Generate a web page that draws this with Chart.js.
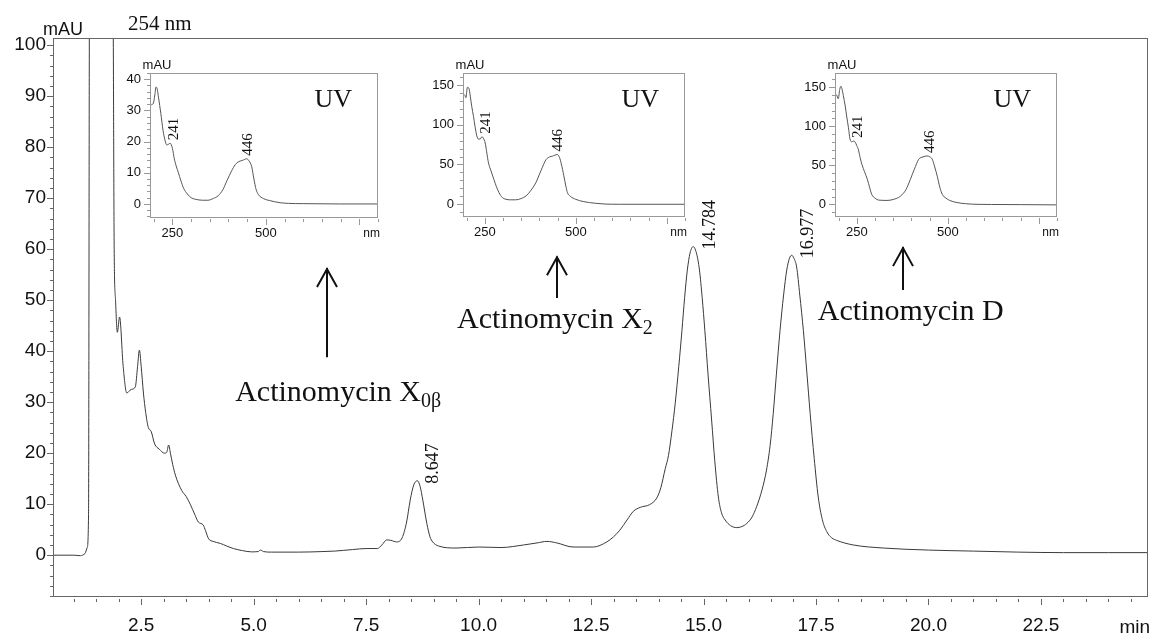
<!DOCTYPE html>
<html>
<head>
<meta charset="utf-8">
<script src="https://cdn.jsdelivr.net/npm/chart.js@4.4.0/dist/chart.umd.min.js"></script>
<style>
  body { margin: 0; background: #fff; }
  #wrap { position: relative; width: 1151px; height: 636px; overflow: hidden; }
  canvas { position: absolute; }
</style>
</head>
<body>
<div id="wrap">
  <canvas id="main" width="1151" height="636" style="left:0;top:0"></canvas>
  <canvas id="uv1" width="280" height="195" style="left:110px;top:55px"></canvas>
  <canvas id="uv2" width="274" height="195" style="left:423px;top:55px"></canvas>
  <canvas id="uv3" width="274" height="195" style="left:795px;top:55px"></canvas>
</div>
<script>
// chromatogram at 254 nm (min, mAU)
const retentionTime = [0.55, 1.0, 1.15, 1.25, 1.30, 1.33, 1.35, 1.6, 1.85, 1.88, 1.90, 1.93, 1.97, 2.02, 2.10, 2.18, 2.28, 2.37, 2.42, 2.46,
  2.50, 2.55, 2.60, 2.66, 2.72, 2.80, 2.90, 3.02, 3.07, 3.11, 3.15, 3.20, 3.26, 3.40, 3.50, 3.59, 3.70, 3.77, 3.88, 3.93,
  4.00, 4.10, 4.26, 4.40, 4.55, 4.75, 4.95, 5.10, 5.15, 5.22, 5.40, 6.00, 6.50, 6.80, 7.20, 7.50, 7.75, 7.85, 7.96, 8.05,
  8.18, 8.30, 8.40, 8.48, 8.56, 8.64, 8.70, 8.76, 8.85, 8.92, 8.98, 9.11, 9.50, 10.0, 10.5, 11.0, 11.3, 11.52, 11.74, 12.1,
  12.55, 12.85, 13.0, 13.14, 13.3, 13.44, 13.6, 13.8, 13.96, 14.05, 14.15, 14.22, 14.30, 14.37, 14.45, 14.52, 14.58, 14.64, 14.70, 14.77,
  14.84, 14.91, 14.97, 15.03, 15.10, 15.18, 15.25, 15.33, 15.40, 15.48, 15.60, 15.74, 15.85, 15.96, 16.08, 16.18, 16.30, 16.40, 16.48, 16.55,
  16.62, 16.70, 16.78, 16.85, 16.91, 16.96, 17.01, 17.07, 17.14, 17.22, 17.30, 17.37, 17.46, 17.55, 17.64, 17.74, 17.85, 17.96, 18.33, 19.0,
  20.0, 21.0, 22.0, 23.0, 24.0, 24.9];
const absorbance = [0.0, 0.0, -0.1, 0.3, 1.5, 8, 110, 300, 150, 102, 60, 50, 43.7, 46.7, 37, 31.8, 32.5, 33, 37, 40.2,
  37, 31.8, 28, 25.0, 24.3, 21.8, 20.8, 20.0, 20.2, 21.6, 20, 17.8, 15.7, 12.7, 11.5, 10.0, 7.8, 6.5, 5.9, 4.8,
  3.2, 2.7, 2.3, 1.8, 1.3, 0.9, 0.65, 0.7, 1.0, 0.7, 0.6, 0.6, 0.7, 0.8, 1.1, 1.3, 1.3, 2.0, 3.0, 2.9,
  2.6, 3.4, 6.5, 10.8, 13.8, 14.6, 13.5, 10.8, 6.2, 3.6, 2.6, 1.8, 1.4, 1.6, 1.5, 2.0, 2.4, 2.7, 2.4, 1.6,
  1.6, 2.6, 3.6, 4.9, 6.9, 8.6, 9.4, 9.9, 11.2, 13.2, 17, 19.5, 24.5, 29.7, 37, 44, 50.5, 55.9, 59.2, 60.5,
  59.3, 55.9, 50.5, 44, 35.5, 26.5, 18.5, 11.4, 8.3, 6.9, 5.8, 5.4, 5.6, 6.2, 7.5, 9.5, 12.8, 16.7, 21.5, 27.8,
  35.5, 44, 51, 55.9, 58.2, 58.8, 58.2, 56.5, 51, 44, 35.5, 27.8, 19, 11.4, 7, 4.6, 3.4, 2.9, 2.0, 1.4,
  1.0, 0.8, 0.6, 0.5, 0.5, 0.5];
const peakTimes = [8.647, 14.784, 16.977];

// UV spectra (nm, mAU)
const uvWavelength1 = [193, 199, 203, 206, 209, 213, 219, 225, 230, 235, 240, 244, 250, 255, 260, 266, 272, 280, 290, 300,
  312, 330, 345, 360, 372, 385, 396, 408, 418, 428, 438, 449, 455, 462, 468, 474, 480, 494, 510, 538, 560, 600, 700, 800];
const uvAbsorbance1 = [31.8, 32.3, 35, 37.5, 37, 34, 29, 23.5, 20.5, 18.9, 19.2, 19.5, 17.8, 14.5, 12.2, 10, 7.7, 5, 3.2, 2.0,
  1.5, 1.2, 1.2, 1.8, 2.6, 4.6, 7.5, 10.5, 12.6, 13.6, 14.0, 14.5, 13.8, 12, 8, 4.6, 3.0, 1.7, 1.1, 0.4, 0.2, 0.1, 0.0, 0.0];
const uvWavelength2 = [190, 195, 198, 202, 206, 210, 214, 219, 223, 228, 232, 237, 242, 246, 251, 255, 260, 267, 275, 282,
  289, 298, 308, 320, 335, 350, 363, 376, 390, 404, 418, 428, 436, 449, 455, 460, 467, 473, 477, 485, 500, 520, 555, 580, 620, 800];
const uvAbsorbance2 = [139, 137, 134, 147, 146, 136, 123, 110, 98, 86, 82, 82, 85, 83, 77, 66, 52, 42, 31, 22,
  14.6, 8.5, 6.3, 5.6, 5.6, 7.2, 10.4, 17, 27, 42, 56, 59.5, 60.5, 62.5, 59, 51, 36, 22, 14.6, 10, 6.2, 3.5, 1.2, 0.3, 0, 0];
const uvWavelength3 = [190, 194, 199, 203, 206, 209, 213, 218, 222, 227, 231, 236, 241, 245, 250, 254, 259, 264, 271, 279,
  285, 291, 300, 310, 333, 350, 370, 385, 397, 408, 420, 432, 443, 450, 457, 464, 471, 478, 485, 495, 505, 525, 549, 580, 620, 700, 800];
const uvAbsorbance3 = [140, 140, 135, 147, 151, 148, 139, 126, 113, 98, 84, 80, 81, 80, 75, 70.5, 60, 51, 42, 32,
  22, 12.8, 8, 5.6, 5.2, 6.4, 10.7, 19, 32, 45, 57.7, 60.8, 62, 61, 58, 48, 36, 22, 12.8, 8, 5.2, 2.5, 1, 0.2, 0, -0.2, -0.5];
const uvMaxima = [241, 446];

// compound annotations, placed in data units (min, mAU)
const compoundNames = ['Actinomycin X', 'Actinomycin X', 'Actinomycin D'];
const compoundSubs = ['0\u03B2', '2', ''];
const compoundAnchors = [[4.59, 30.2], [9.52, 44.5], [17.54, 46.1]];
const arrowTimes = [6.63, 11.74, 19.43];
const arrowFrom = [38.8, 50.4, 52.0];
const arrowTo = [56.3, 58.6, 60.4];

const sans = '"Liberation Sans", Arial, sans-serif';
const serif = '"Liberation Serif", "Times New Roman", serif';

function isStep(v, s) { return Math.abs(v / s - Math.round(v / s)) < 1e-6; }
function stepTicks(min, max, step) {
  const out = [];
  for (let k = Math.ceil(min / step - 1e-9); k * step <= max + 1e-9; k++) out.push({ value: +(k * step).toFixed(6) });
  return out;
}

const framePlugin = {
  id: 'frame',
  afterDraw(chart, args, o) {
    const { ctx, chartArea: a, scales: { x, y } } = chart;
    ctx.save();
    ctx.strokeStyle = o.color;
    ctx.lineWidth = 1;
    ctx.strokeRect(Math.round(a.left) + 0.5, Math.round(a.top) + 0.5, Math.round(a.right - a.left) - 1, Math.round(a.bottom - a.top) - 1);
    ctx.beginPath();
    x.ticks.forEach(t => {
      const px = Math.round(x.getPixelForValue(t.value)) + 0.5;
      const len = isStep(t.value, o.xMajor) ? o.major : o.minor;
      ctx.moveTo(px, a.bottom + o.gap);
      ctx.lineTo(px, a.bottom + o.gap + len);
    });
    y.ticks.forEach(t => {
      const py = Math.round(y.getPixelForValue(t.value)) + 0.5;
      const len = isStep(t.value, o.yMajor) ? o.major : o.minor;
      ctx.moveTo(a.left - len, py);
      ctx.lineTo(a.left, py);
    });
    ctx.stroke();
    ctx.restore();
  }
};

function rotatedText(ctx, text, x, y, font) {
  ctx.save();
  ctx.translate(x, y);
  ctx.rotate(-Math.PI / 2);
  ctx.font = font;
  ctx.textAlign = 'left';
  ctx.textBaseline = 'middle';
  ctx.fillText(text, 0, 0);
  ctx.restore();
}

function valueNear(xs, ys, target, win) {
  let best = -Infinity;
  xs.forEach((v, i) => { if (Math.abs(v - target) <= win && ys[i] > best) best = ys[i]; });
  return best;
}

const mainText = {
  id: 'mainText',
  afterDraw(chart) {
    const { ctx, chartArea: a, scales: { x, y } } = chart;
    ctx.save();
    ctx.fillStyle = '#111';
    ctx.font = '18px ' + sans;
    ctx.textBaseline = 'alphabetic';
    ctx.textAlign = 'center';
    ctx.fillText('mAU', 63, 35);
    ctx.textAlign = 'right';
    ctx.font = '19px ' + sans;
    ctx.fillText('min', 1150, 633);
    ctx.textAlign = 'left';
    ctx.font = '21px ' + serif;
    ctx.fillText('254 nm', 128, 30);

    // retention time labels
    peakTimes.forEach(t => {
      const h = valueNear(retentionTime, absorbance, t, 0.1);
      rotatedText(ctx, t.toFixed(3), x.getPixelForValue(t) + 16, y.getPixelForValue(h) + 3, '18px ' + serif);
    });

    // compound names
    compoundNames.forEach((name, i) => {
      const px = x.getPixelForValue(compoundAnchors[i][0]);
      const py = y.getPixelForValue(compoundAnchors[i][1]);
      ctx.font = '30px ' + serif;
      ctx.textAlign = 'left';
      ctx.fillText(name, px, py);
      const w = ctx.measureText(name).width;
      if (compoundSubs[i]) {
        ctx.font = '20px ' + serif;
        ctx.fillText(compoundSubs[i], px + w, py + 6);
      }
    });

    // arrows
    ctx.strokeStyle = '#111';
    ctx.lineWidth = 2;
    arrowTimes.forEach((t, i) => {
      const px = Math.round(x.getPixelForValue(t));
      const y0 = y.getPixelForValue(arrowFrom[i]);
      const y1 = y.getPixelForValue(arrowTo[i]);
      ctx.beginPath();
      ctx.moveTo(px, y0);
      ctx.lineTo(px, y1);
      ctx.moveTo(px - 10, y1 + 19);
      ctx.lineTo(px, y1 + 1);
      ctx.lineTo(px + 10, y1 + 19);
      ctx.stroke();
    });
    ctx.restore();
  }
};

new Chart(document.getElementById('main'), {
  type: 'line',
  data: {
    datasets: [{
      data: retentionTime.map((t, i) => ({ x: t, y: absorbance[i] })),
      borderColor: '#3a3a3a',
      borderWidth: 1,
      pointRadius: 0,
      cubicInterpolationMode: 'monotone',
      fill: false
    }]
  },
  options: {
    responsive: false,
    animation: false,
    events: [],
    layout: { padding: { top: 38, right: 3, left: 0, bottom: 0 } },
    plugins: {
      legend: { display: false },
      tooltip: { enabled: false },
      frame: { color: '#666', xMajor: 2.5, yMajor: 10, major: 6, minor: 3, gap: 2 }
    },
    scales: {
      x: {
        type: 'linear', min: 0.54, max: 24.88,
        grid: { display: false, drawTicks: false },
        border: { display: false },
        afterBuildTicks: s => { s.ticks = stepTicks(s.min, s.max, 0.5); },
        afterFit: s => { s.height = 39; },
        ticks: {
          autoSkip: false, maxRotation: 0, padding: 17, color: '#111',
          font: { family: sans, size: 19 },
          callback: v => isStep(v, 2.5) ? v.toFixed(1) : ''
        }
      },
      y: {
        min: -8.2, max: 101.4,
        grid: { display: false, drawTicks: false },
        border: { display: false },
        afterBuildTicks: s => { s.ticks = stepTicks(s.min, s.max, 2); },
        afterFit: s => { s.width = 53; },
        ticks: {
          autoSkip: false, padding: 7, color: '#111',
          font: { family: sans, size: 19 },
          callback: v => isStep(v, 10) ? String(v) : ''
        }
      }
    }
  },
  plugins: [framePlugin, mainText]
});

function makeInset(id, wl, ab, yMin, yMax, yStep, yLabel, xAxisH) {
  const insetText = {
    id: 'insetText',
    afterDraw(chart) {
      const { ctx, chartArea: a, scales: { x, y } } = chart;
      ctx.save();
      ctx.fillStyle = '#111';
      ctx.font = '13px ' + sans;
      ctx.textAlign = 'center';
      ctx.fillText('mAU', a.left + 7, a.top - 4);
      ctx.textAlign = 'right';
      ctx.font = '12px ' + sans;
      ctx.fillText('nm', a.right + 2, a.bottom + 19);
      ctx.font = '26px ' + serif;
      ctx.fillText('UV', a.right - 26, a.top + 34);
      uvMaxima.forEach((nm, i) => {
        const h = valueNear(wl, ab, nm, 8);
        rotatedText(ctx, String(nm), x.getPixelForValue(nm) + (i === 0 ? 5 : 2), y.getPixelForValue(h) - 3, '15px ' + serif);
      });
      ctx.restore();
    }
  };
  new Chart(document.getElementById(id), {
    type: 'line',
    data: {
      datasets: [{
        data: wl.map((w, i) => ({ x: w, y: ab[i] })),
        borderColor: '#555',
        borderWidth: 1,
        pointRadius: 0,
        cubicInterpolationMode: 'monotone',
        fill: false
      }]
    },
    options: {
      responsive: false,
      animation: false,
      events: [],
      layout: { padding: { top: 18, right: 12, left: 0, bottom: 0 } },
      plugins: {
        legend: { display: false },
        tooltip: { enabled: false },
        frame: { color: '#999', xMajor: 250, yMajor: yLabel, major: 6, minor: 3, gap: 1 }
      },
      scales: {
        x: {
          type: 'linear', min: 190, max: 800,
          grid: { display: false, drawTicks: false },
          border: { display: false },
          afterBuildTicks: s => { s.ticks = stepTicks(200, 800, 50); },
          afterFit: s => { s.height = xAxisH; },
          ticks: {
            autoSkip: false, maxRotation: 0, padding: 8, color: '#111',
            font: { family: sans, size: 13 },
            callback: v => (v === 250 || v === 500) ? String(v) : ''
          }
        },
        y: {
          min: yMin, max: yMax,
          grid: { display: false, drawTicks: false },
          border: { display: false },
          afterBuildTicks: s => { s.ticks = stepTicks(s.min, s.max, yStep); },
          afterFit: s => { s.width = 40; },
          ticks: {
            autoSkip: false, padding: 9, color: '#111',
            font: { family: sans, size: 13 },
            callback: v => isStep(v, yLabel) ? String(v) : ''
          }
        }
      }
    },
    plugins: [framePlugin, insetText]
  });
}

makeInset('uv1', uvWavelength1, uvAbsorbance1, -4.5, 42, 2, 10, 32);
makeInset('uv2', uvWavelength2, uvAbsorbance2, -16, 165, 10, 50, 33);
makeInset('uv3', uvWavelength3, uvAbsorbance3, -16, 168, 10, 50, 33);
</script>
</body>
</html>
